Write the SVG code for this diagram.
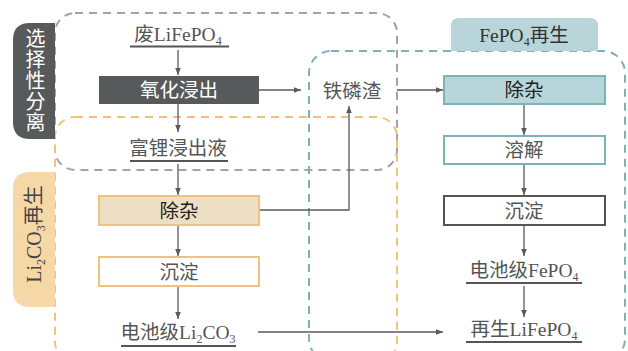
<svg xmlns="http://www.w3.org/2000/svg" width="628" height="351" viewBox="0 0 628 351">
<defs>
<style>
.t{font-family:"Liberation Serif","Noto Sans CJK SC",serif;font-size:19.5px;fill:#555;text-anchor:middle}
.w{fill:#fff}
.k{fill:#222}
.ln{stroke:#5a5a5a;stroke-width:1.3;fill:none}
.ul{stroke:#555;stroke-width:2}
.reg{fill:none;stroke-width:2;stroke-dasharray:8 6}
</style>
<marker id="ah" markerWidth="8" markerHeight="8" refX="7" refY="4" orient="auto" markerUnits="userSpaceOnUse">
<path d="M0,1.2 L7,4 L0,6.8 z" fill="#5a5a5a"/>
</marker>
</defs>
<rect width="628" height="351" fill="#fff"/>
<g id="regions">
<rect class="reg" x="55" y="13" width="342" height="157" rx="20" stroke="#a3a3a3"/>
<rect class="reg" x="55" y="117" width="342" height="245" rx="20" stroke="#f0c27a"/>
<rect class="reg" x="309" y="51" width="316" height="310" rx="22" stroke="#7db2b8"/>
</g>
<g id="tab-sel">
<path d="M55,23 H30 Q13,23 13,40 V122 Q13,139 30,139 H55 Z" fill="#575a5a"/>
<text class="t w" x="34" y="81" style="writing-mode:vertical-rl;glyph-orientation-vertical:0;letter-spacing:1px;font-size:20px" dominant-baseline="central">选择性分离</text>
</g>
<g id="tab-li">
<path d="M55,172 H30 Q13,172 13,189 V290 Q13,307 30,307 H55 Z" fill="#f5d8a6"/>
<text class="t" x="0" y="0" transform="translate(41,234) rotate(-90)" style="fill:#444;font-size:20px">Li<tspan font-size="12" dy="4">2</tspan><tspan dy="-4">CO</tspan><tspan font-size="12" dy="4">3</tspan><tspan dy="-4">再生</tspan></text>
</g>
<g id="tab-fe">
<path d="M451,51 V26 Q451,18 459,18 H590 Q598,18 598,26 V51 Z" fill="#b8d6d9"/>
<text class="t" x="524" y="42" style="fill:#333">FePO<tspan font-size="12" dy="4">4</tspan><tspan dy="-4">再生</tspan></text>
</g>
<g id="connectors">
<line class="ln" x1="178" y1="50" x2="178" y2="75" marker-end="url(#ah)"/>
<line class="ln" x1="178" y1="104" x2="178" y2="132" marker-end="url(#ah)"/>
<line class="ln" x1="178" y1="164" x2="178" y2="195" marker-end="url(#ah)"/>
<line class="ln" x1="178" y1="225" x2="178" y2="256" marker-end="url(#ah)"/>
<line class="ln" x1="178" y1="286" x2="178" y2="319" marker-end="url(#ah)"/>
<line class="ln" x1="259" y1="90" x2="301" y2="90" marker-end="url(#ah)"/>
<line class="ln" x1="397" y1="90" x2="443" y2="90" marker-end="url(#ah)"/>
<polyline class="ln" points="259,210 349,210 349,106" marker-end="url(#ah)"/>
<line class="ln" x1="258" y1="332" x2="443" y2="332" marker-end="url(#ah)"/>
<line class="ln" x1="524" y1="104" x2="524" y2="135" marker-end="url(#ah)"/>
<line class="ln" x1="524" y1="164" x2="524" y2="195" marker-end="url(#ah)"/>
<line class="ln" x1="524" y1="225" x2="524" y2="256" marker-end="url(#ah)"/>
<line class="ln" x1="524" y1="286" x2="524" y2="317" marker-end="url(#ah)"/>
</g>
<g id="n-waste">
<text class="t" x="178" y="41">废LiFePO<tspan font-size="12" dy="4">4</tspan></text>
<line class="ul" x1="130" y1="46.5" x2="229" y2="46.5"/>
</g>
<g id="n-oxid">
<rect x="99" y="76" width="160" height="28" fill="#575a5a"/>
<text class="t w" x="179" y="97">氧化浸出</text>
</g>
<g id="n-rich">
<text class="t" x="178" y="155">富锂浸出液</text>
<line class="ul" x1="130" y1="161" x2="228" y2="161"/>
</g>
<g id="n-rem1">
<rect x="99" y="196" width="160" height="29" fill="#eddfc6" stroke="#f0c27a" stroke-width="2"/>
<text class="t k" x="179" y="218">除杂</text>
</g>
<g id="n-prec1">
<rect x="99" y="257" width="160" height="29" fill="#fff" stroke="#f0c27a" stroke-width="2"/>
<text class="t" x="179" y="279">沉淀</text>
</g>
<g id="n-li2co3">
<text class="t" x="178" y="339">电池级Li<tspan font-size="12" dy="4">2</tspan><tspan dy="-4">CO</tspan><tspan font-size="12" dy="4">3</tspan></text>
<line class="ul" x1="121" y1="346" x2="236" y2="346"/>
</g>
<g id="n-slag">
<text class="t" x="352" y="98">铁磷渣</text>
</g>
<g id="n-rem2">
<rect x="444" y="76" width="161" height="28" fill="#b8d6d9" stroke="#7db2b8" stroke-width="2"/>
<text class="t k" x="524" y="97">除杂</text>
</g>
<g id="n-diss">
<rect x="444" y="136" width="161" height="28" fill="#fff" stroke="#7db2b8" stroke-width="2"/>
<text class="t" x="524" y="157">溶解</text>
</g>
<g id="n-prec2">
<rect x="444" y="196" width="161" height="29" fill="#fff" stroke="#555" stroke-width="2"/>
<text class="t" x="524" y="218">沉淀</text>
</g>
<g id="n-fepo4">
<text class="t" x="524" y="277">电池级FePO<tspan font-size="12" dy="4">4</tspan></text>
<line class="ul" x1="466" y1="283" x2="582" y2="283"/>
</g>
<g id="n-lfp">
<text class="t" x="524" y="336">再生LiFePO<tspan font-size="12" dy="4">4</tspan></text>
<line class="ul" x1="466" y1="342" x2="582" y2="342"/>
</g>
</svg>
